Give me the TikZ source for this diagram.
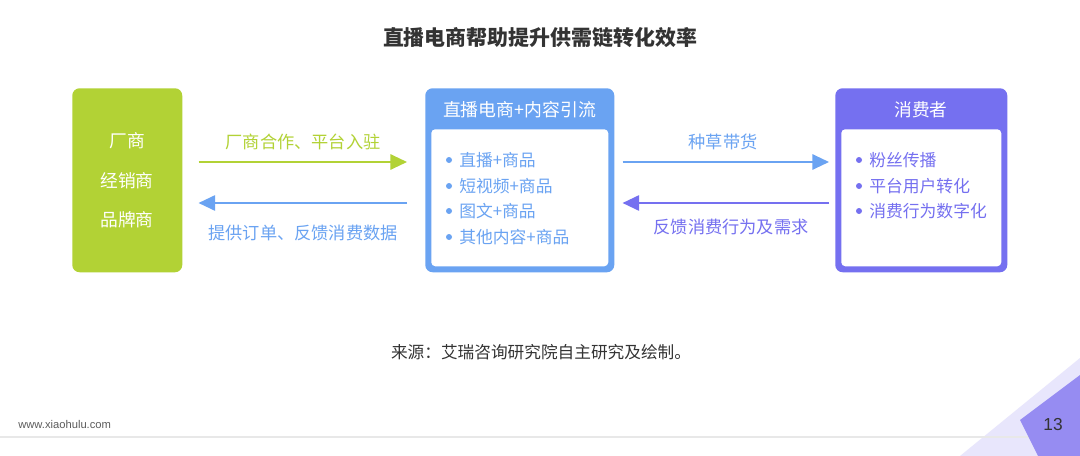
\documentclass[tikz,border=0pt]{standalone}
\usepackage{fontspec}
\setmainfont{Noto Sans CJK SC}
\newfontfamily\latinsans{Liberation Sans}
\usetikzlibrary{arrows.meta}
\definecolor{cgreen}{RGB}{178,210,53}
\definecolor{cblue}{RGB}{106,163,242}
\definecolor{cpurple}{RGB}{117,112,240}
\definecolor{ctext}{RGB}{51,51,51}
\definecolor{clav}{RGB}{232,230,252}
\definecolor{cviolet}{RGB}{150,140,242}
\definecolor{cline}{RGB}{232,232,232}
\begin{document}
\begin{tikzpicture}[x=0.75pt,y=-0.75pt,
  box/.style={rounded corners=5.5pt,inner sep=0pt,anchor=north west},
  inner/.style={fill=white,rounded corners=3pt,inner sep=0pt,anchor=north west},
  wtxt/.style={text=white,font=\fontsize{13.3pt}{15pt}\selectfont,inner sep=0pt},
  item/.style={font=\fontsize{12.6pt}{15pt}\selectfont,inner sep=0pt,anchor=west},
  lbl/.style={font=\fontsize{12.9pt}{15pt}\selectfont,inner sep=0pt},
  arr/.style={line width=1.5pt,-{Triangle[length=12.5pt,width=11.5pt]}},
  dot/.style={circle,inner sep=0pt,minimum size=4.5pt}]
\useasboundingbox (0,0) rectangle (1080,456);
\fill[white] (0,0) rectangle (1080,456);
% corner decoration
\fill[clav] (960,456) -- (1080,358) -- (1080,456) -- cycle;
\draw[cline,line width=1.5pt] (0,437) -- (1080,437);
\fill[cviolet] (1020,420) -- (1080,375) -- (1080,456) -- (1038,456) -- cycle;
\node[text=ctext,font=\latinsans\fontsize{13pt}{15pt}\selectfont,inner sep=0pt] (pg) at (1053,425) {13};
\node[text=ctext!80,font=\latinsans\fontsize{8.4pt}{10pt}\selectfont,inner sep=0pt,anchor=west] (web) at (18,424) {www.xiaohulu.com};
% title
\node[text=ctext,font=\fontsize{15.7pt}{18pt}\selectfont\bfseries,inner sep=0pt] (title) at (540,38) {直播电商帮助提升供需链转化效率};
% left box
\node[box,fill=cgreen,minimum width=110*0.75pt,minimum height=184*0.75pt] (L) at (72,88) {};
\node[wtxt] (l1) at (127,141) {厂商};
\node[wtxt] (l2) at (127,181) {经销商};
\node[wtxt] (l3) at (127,220) {品牌商};
% middle box
\node[box,fill=cblue,minimum width=189*0.75pt,minimum height=184*0.75pt] (M) at (425,88) {};
\node[inner,minimum width=177*0.75pt,minimum height=137*0.75pt] (Mi) at (431,129) {};
\node[wtxt,font=\fontsize{13.4pt}{15pt}\selectfont] (mh) at (519.5,110) {直播电商+内容引流};
\foreach \y/\t/\n in {160/直播+商品/1,186/短视频+商品/2,211/图文+商品/3,237/其他内容+商品/4}{
  \node[dot,fill=cblue] (md\n) at (449,\y) {};
  \node[item,text=cblue] (mt\n) at (459,\y) {\t};
}
% right box
\node[box,fill=cpurple,minimum width=172*0.75pt,minimum height=184*0.75pt] (R) at (835,88) {};
\node[inner,minimum width=160*0.75pt,minimum height=137*0.75pt] (Ri) at (841,129) {};
\node[wtxt] (rh) at (921,110) {消费者};
\foreach \y/\t/\n in {160/粉丝传播/1,186/平台用户转化/2,211/消费行为数字化/3}{
  \node[dot,fill=cpurple] (rd\n) at (859,\y) {};
  \node[item,text=cpurple] (rt\n) at (869,\y) {\t};
}
% arrows
\coordinate (a1) at (0,162);
\coordinate (a2) at (0,203);
\draw[arr,cgreen,shorten <=16*0.75pt,shorten >=18*0.75pt] (L.east |- a1) -- (M.west |- a1);
\draw[arr,cblue,shorten <=18*0.75pt,shorten >=16*0.75pt] (M.west |- a2) -- (L.east |- a2);
\draw[arr,cblue,shorten <=8*0.75pt,shorten >=6*0.75pt] (M.east |- a1) -- (R.west |- a1);
\draw[arr,cpurple,shorten <=6*0.75pt,shorten >=8*0.75pt] (R.west |- a2) -- (M.east |- a2);
\node[lbl,text=cgreen] (t1) at (303,142) {厂商合作、平台入驻};
\node[lbl,text=cblue] (t2) at (303,233) {提供订单、反馈消费数据};
\node[lbl,text=cblue] (t3) at (723,142) {种草带货};
\node[lbl,text=cpurple] (t4) at (731,227) {反馈消费行为及需求};
% source
\node[text=ctext,font=\fontsize{12.5pt}{14pt}\selectfont,inner sep=0pt] (src) at (541,352) {来源：艾瑞咨询研究院自主研究及绘制。};
\end{tikzpicture}
\end{document}
